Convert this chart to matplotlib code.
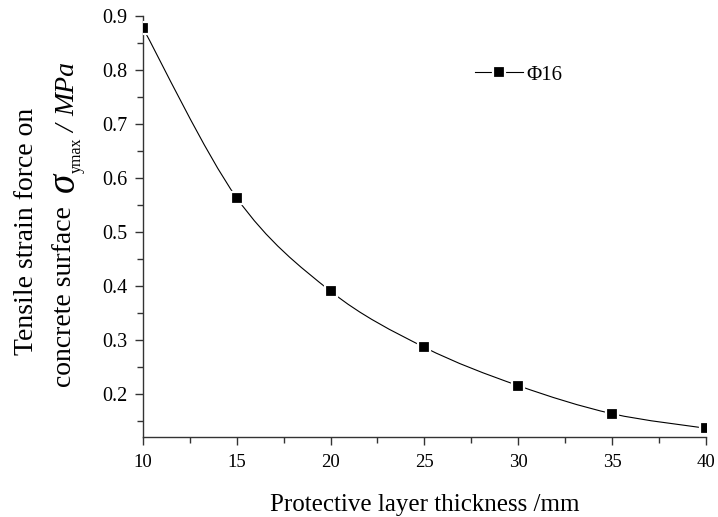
import numpy as np
import matplotlib
matplotlib.use('Agg')
import matplotlib.pyplot as plt
from matplotlib.path import Path
from matplotlib.patches import PathPatch
from matplotlib.lines import Line2D
from matplotlib.ticker import MultipleLocator

plt.rcParams['font.family'] = 'Liberation Serif'

# Cover thickness (mm) and max tensile stress (MPa)
thickness = [10, 15, 20, 25, 30, 35, 40]
stress = [0.878, 0.563, 0.390, 0.286, 0.215, 0.163, 0.136]
series_label = 'Φ16'


def smooth_path(x, y):
    # Catmull-Rom curve through the points, written as cubic Bezier segments
    pts = np.column_stack([np.asarray(x, float), np.asarray(y, float)])
    verts = [pts[0]]
    codes = [Path.MOVETO]
    n = len(pts)
    for i in range(n - 1):
        p0 = pts[i - 1] if i > 0 else pts[i]
        p1 = pts[i]
        p2 = pts[i + 1]
        p3 = pts[i + 2] if i + 2 < n else pts[i + 1]
        verts += [p1 + (p2 - p0) / 6.0, p2 - (p3 - p1) / 6.0, p2]
        codes += [Path.CURVE4] * 3
    return Path(verts, codes)


W, H = 718, 517
fig = plt.figure(figsize=(W / 100, H / 100), dpi=100)
ax = fig.add_axes([0.199, 0.155, 0.784, 0.814])

curve = PathPatch(smooth_path(thickness, stress), facecolor='none',
                  edgecolor='black', lw=0.8, zorder=2)
ax.add_patch(curve)
ax.plot(thickness, stress, ls='none', marker='s', ms=8, mfc='black',
        mec='white', mew=1.6, zorder=3)

ax.set_xlim(10, 40)
ax.set_ylim(0.12, 0.9)
ax.xaxis.set_major_locator(MultipleLocator(5))
ax.xaxis.set_minor_locator(MultipleLocator(2.5))
ax.yaxis.set_major_locator(MultipleLocator(0.1))
ax.yaxis.set_minor_locator(MultipleLocator(0.05))
ax.tick_params(which='both', direction='out', width=1, color='#333333')
ax.tick_params(axis='x', labelsize=13.5, pad=6)
ax.tick_params(axis='y', labelsize=14.5, pad=5)
ax.tick_params(which='major', length=6)
ax.tick_params(which='minor', length=4)
ax.spines['top'].set_visible(False)
ax.spines['right'].set_visible(False)
for s in ('left', 'bottom'):
    ax.spines[s].set_linewidth(1)
    ax.spines[s].set_color('#333333')

ax.set_xlabel('Protective layer thickness /mm', fontsize=18, labelpad=17)

# y label: first line centred, second line built from pieces so the
# stress symbol can be larger than the surrounding text
fig.text(33 / W, 1 - 231 / H, 'Tensile strain force on', fontsize=20,
         rotation=90, rotation_mode='anchor', ha='center', va='baseline')

pieces = [
    ('concrete surface  ', 20, 'normal', 0),
    ('σ', 28, 'italic', 3),
    ('ymax', 11.5, 'normal', 10),
    (' / ', 20, 'italic', 3),
    ('MPa', 20, 'italic', 3),
]
renderer = fig.canvas.get_renderer()
base_x = 71
pos_y = 387
for txt, size, style, drop in pieces:
    t = fig.text((base_x + drop) / W, 1 - pos_y / H, txt, fontsize=size,
                 style=style, rotation=90, rotation_mode='anchor',
                 ha='left', va='baseline')
    bb = t.get_window_extent(renderer)
    pos_y -= bb.height

handle = Line2D([], [], color='black', lw=0.8, marker='s', ms=8, mfc='black',
                mec='white', mew=1.6)
ax.legend([handle], [series_label], loc='center left', bbox_to_anchor=(0.556, 0.86),
          frameon=False, fontsize=15, handlelength=2.3, handletextpad=0.2)

fig.savefig('out.png', dpi=100)
